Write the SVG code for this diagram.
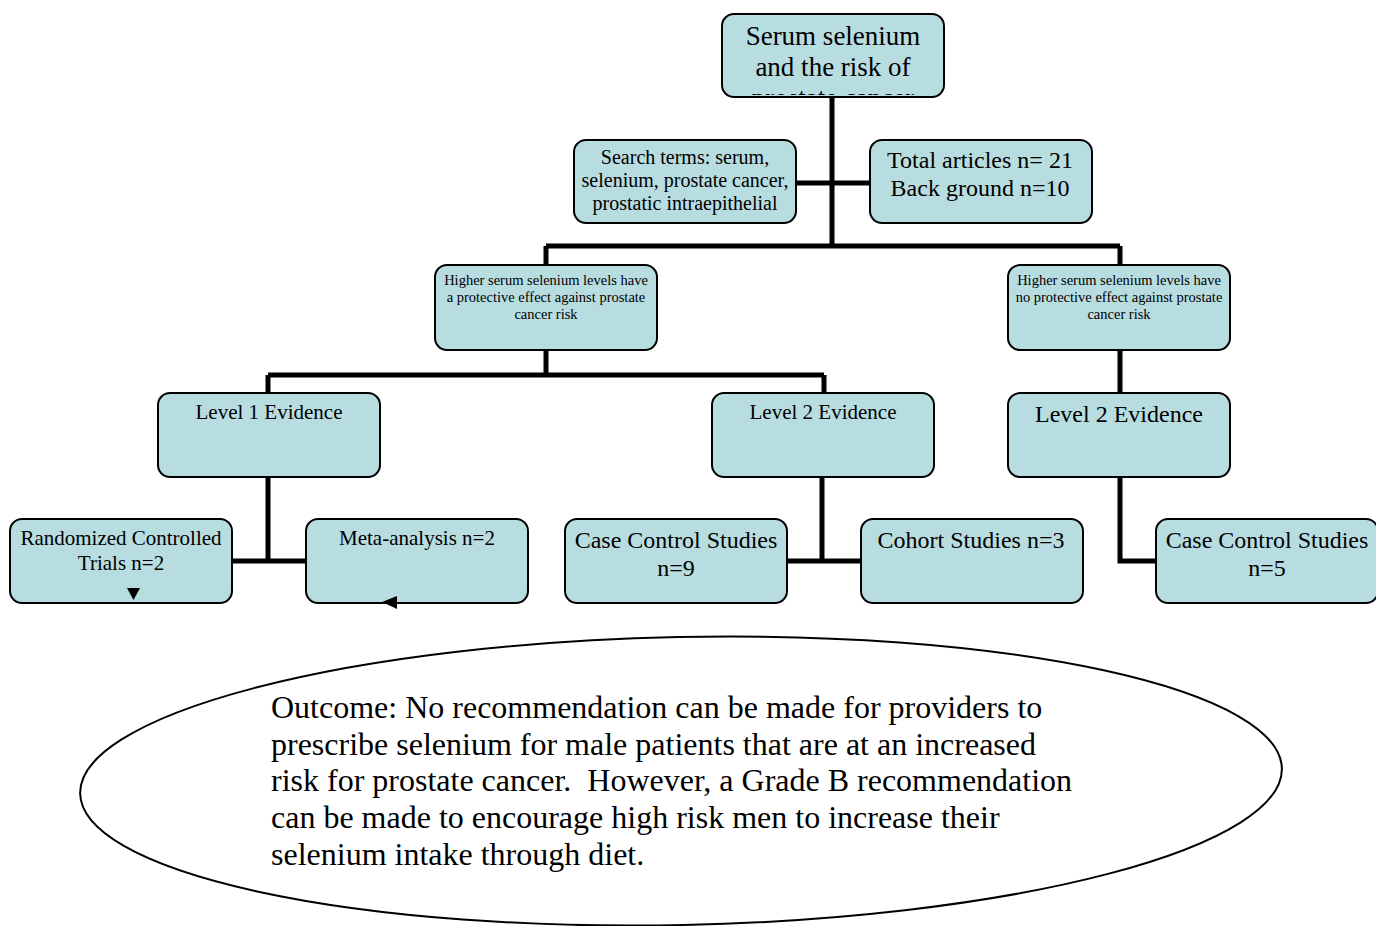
<svg xmlns="http://www.w3.org/2000/svg" width="1376" height="926" viewBox="0 0 1376 926">
<style>
.box{fill:#b8dde1;stroke:#000;stroke-width:2}
.t{font-family:"Liberation Serif","Times New Roman",serif;fill:#000;text-anchor:middle}
.c{fill:none;stroke:#000;stroke-width:5}
.ol{font-family:"Liberation Serif","Times New Roman",serif;fill:#000;font-size:32px}
</style>
<defs>
<clipPath id="clipTop"><rect x="723" y="15" width="220" height="80"/></clipPath>
</defs>
<rect width="1376" height="926" fill="#fff"/>
<g id="connectors">
<path class="c" d="M832 97V246M546 246H1120M546 246V265M1120 246V265"/>
<path class="c" d="M796 183H870"/>
<path class="c" d="M546 350V375M268 375H824M268 375V393M824 375V393M1120 350V393"/>
<path class="c" d="M268 477V561M232 561H306"/>
<path class="c" d="M822 477V561M787 561H861"/>
<path class="c" d="M1120 477V561H1156"/>
</g>
<g id="n-top">
<rect class="box" x="722" y="14" width="222" height="83" rx="12"/>
<g clip-path="url(#clipTop)" class="t" font-size="27">
<text x="833" y="44.5">Serum selenium</text>
<text x="833" y="75.5">and the risk of</text>
<text x="833" y="106.5">prostate cancer</text>
</g>
</g>
<g id="n-search">
<rect class="box" x="574" y="140" width="222" height="83" rx="12"/>
<g class="t" font-size="20">
<text x="685" y="164">Search terms: serum,</text>
<text x="685" y="187">selenium, prostate cancer,</text>
<text x="685" y="210">prostatic intraepithelial</text>
</g>
</g>
<g id="n-total">
<rect class="box" x="870" y="140" width="222" height="83" rx="12"/>
<g class="t" font-size="24">
<text x="980" y="167.5">Total articles n= 21</text>
<text x="980" y="195.5">Back ground n=10</text>
</g>
</g>
<g id="n-protective">
<rect class="box" x="435" y="265" width="222" height="85" rx="12"/>
<g class="t" font-size="14.5">
<text x="546" y="285">Higher serum selenium levels have</text>
<text x="546" y="302">a protective effect against prostate</text>
<text x="546" y="319">cancer risk</text>
</g>
</g>
<g id="n-noprotective">
<rect class="box" x="1008" y="265" width="222" height="85" rx="12"/>
<g class="t" font-size="14.5">
<text x="1119" y="285">Higher serum selenium levels have</text>
<text x="1119" y="302">no protective effect against prostate</text>
<text x="1119" y="319">cancer risk</text>
</g>
</g>
<g id="n-level1">
<rect class="box" x="158" y="393" width="222" height="84" rx="12"/>
<text class="t" font-size="21" x="269" y="418.5">Level 1 Evidence</text>
</g>
<g id="n-level2a">
<rect class="box" x="712" y="393" width="222" height="84" rx="12"/>
<text class="t" font-size="21" x="823" y="418.5">Level 2 Evidence</text>
</g>
<g id="n-level2b">
<rect class="box" x="1008" y="393" width="222" height="84" rx="12"/>
<text class="t" font-size="24" x="1119" y="421.5">Level 2 Evidence</text>
</g>
<g id="n-rct">
<rect class="box" x="10" y="519" width="222" height="84" rx="12"/>
<g class="t" font-size="21">
<text x="121" y="544.5">Randomized Controlled</text>
<text x="121" y="569.5">Trials n=2</text>
</g>
<polygon points="127,588 140,588 133.5,600" fill="#000"/>
</g>
<g id="n-meta">
<rect class="box" x="306" y="519" width="222" height="84" rx="12"/>
<text class="t" font-size="21" x="417" y="544.5">Meta-analysis n=2</text>
<polygon points="382,602 397,596 397,609" fill="#000"/>
</g>
<g id="n-case9">
<rect class="box" x="565" y="519" width="222" height="84" rx="12"/>
<g class="t" font-size="24">
<text x="676" y="547.5">Case Control Studies</text>
<text x="676" y="575.5">n=9</text>
</g>
</g>
<g id="n-cohort">
<rect class="box" x="861" y="519" width="222" height="84" rx="12"/>
<text class="t" font-size="24" x="971" y="547.5">Cohort Studies n=3</text>
</g>
<g id="n-case5">
<rect class="box" x="1156" y="519" width="222" height="84" rx="12"/>
<g class="t" font-size="24">
<text x="1267" y="547.5">Case Control Studies</text>
<text x="1267" y="575.5">n=5</text>
</g>
</g>
<g id="n-outcome">
<ellipse cx="681" cy="781" rx="601" ry="144" fill="#fff" stroke="#000" stroke-width="2" transform="rotate(-1.2 681 781)"/>
<g class="ol">
<text x="271" y="718">Outcome: No recommendation can be made for providers to</text>
<text x="271" y="755">prescribe selenium for male patients that are at an increased</text>
<text x="271" y="791" xml:space="preserve">risk for prostate cancer.  However, a Grade B recommendation</text>
<text x="271" y="828">can be made to encourage high risk men to increase their</text>
<text x="271" y="865">selenium intake through diet.</text>
</g>
</g>
</svg>
